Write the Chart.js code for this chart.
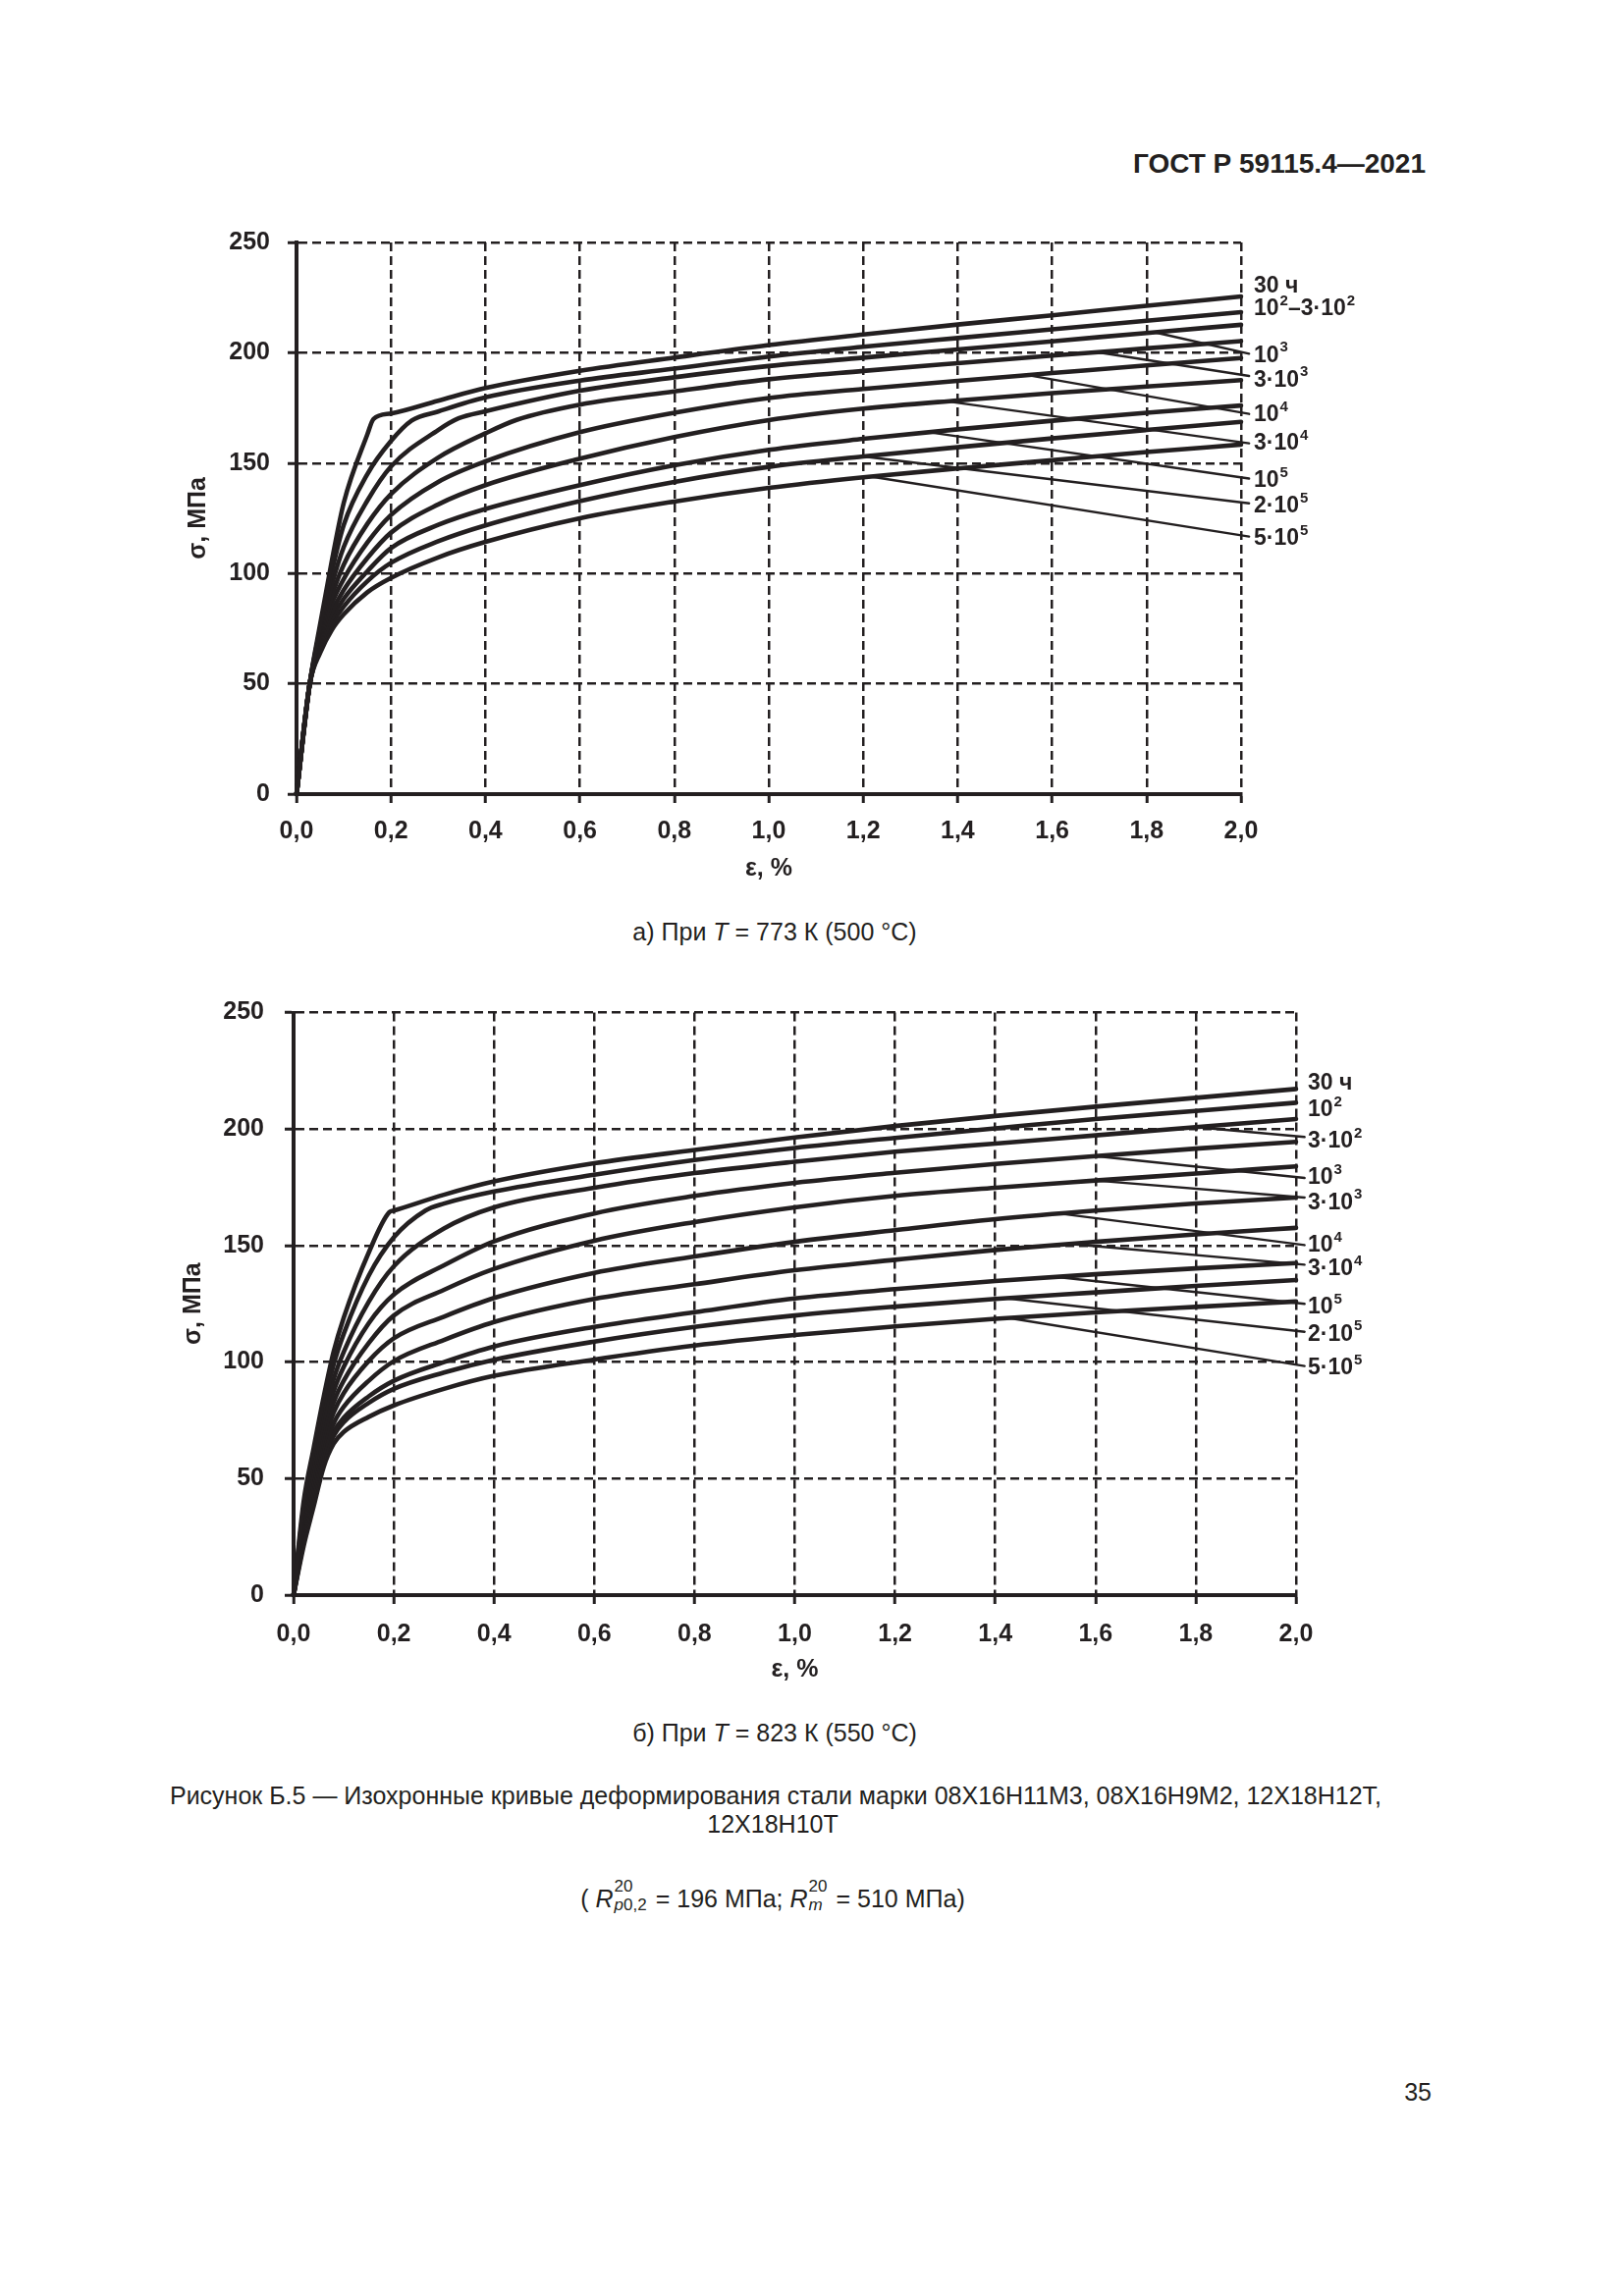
<!DOCTYPE html>
<html><head><meta charset="utf-8">
<script src="https://cdn.jsdelivr.net/npm/chart.js@4.4.1/dist/chart.umd.min.js"></script>
<style>
html,body{margin:0;padding:0;background:#fff;}
#page{position:relative;width:1654px;height:2339px;overflow:hidden;font-family:"Liberation Sans",Arial,sans-serif;color:#231f20;background:#fff;}
.t{position:absolute;white-space:nowrap;line-height:1;font-size:25px;}
.c{transform:translateX(-50%);}
.box{position:absolute;left:0;width:1654px;}
.ss{display:inline-flex;flex-direction:column;vertical-align:16px;font-size:17px;line-height:19px;margin-left:1px;margin-right:9px;}
</style></head>
<body><div id="page">
<div class="t" style="right:202px;top:153px;font-size:28px;font-weight:bold;">ГОСТ Р 59115.4—2021</div>
<div class="box" style="top:200px;height:700px;"><canvas id="chA" width="1654" height="700" style="width:1654px;height:700px;"></canvas></div>
<div class="t c" style="left:789px;top:937px;">а) При <i>T</i> = 773 К (500 °C)</div>
<div class="box" style="top:990px;height:726px;"><canvas id="chB" width="1654" height="726" style="width:1654px;height:726px;"></canvas></div>
<div class="t c" style="left:789px;top:1753px;">б) При <i>T</i> = 823 К (550 °C)</div>
<div class="t c" style="left:790px;top:1817px;">Рисунок Б.5 — Изохронные кривые деформирования стали марки 08Х16Н11М3, 08Х16Н9М2, 12Х18Н12Т,</div>
<div class="t c" style="left:787px;top:1846px;">12Х18Н10Т</div>
<div class="t c" style="left:787px;top:1912px;">( <i>R</i><span class="ss"><span>20</span><span><i>p</i>0,2</span></span>= 196 МПа; <i>R</i><span class="ss"><span>20</span><span><i>m</i></span></span>= 510 МПа)</div>
<div class="t" style="right:196px;top:2119px;">35</div>
</div>
<script>
const INK = '#231f20';
const FONT = '"Liberation Sans", Arial, sans-serif';

// ---- Chart a) T = 773 K ----
const epsA = [0, 0.028, 0.05, 0.075, 0.1, 0.15, 0.2, 0.3, 0.4, 0.6, 0.8, 1.0, 1.2, 1.4, 1.6, 1.8, 2.0];
const a30h = [0, 50, 77, 106, 132, 163, 172.5, 178.3, 184, 191.8, 197.8, 203.5, 208.3, 212.8, 217, 221.3, 225.5];
const a1e2 = [0, 50, 75, 101, 122, 145, 160, 173.4, 179.8, 187.4, 192.8, 198.3, 202.7, 206.7, 210.6, 214.5, 218.4];
const a1e3 = [0, 50, 73, 95, 112, 133, 148.5, 165, 173.5, 182.8, 188.9, 194, 197.8, 201.5, 205.2, 209, 212.7];
const a3e3 = [0, 50, 71.5, 90, 104, 122.5, 136, 152.5, 163.5, 176.5, 182.5, 188, 191.8, 195.3, 198.7, 202, 205.3];
const a1e4 = [0, 50, 70, 86.5, 97.5, 114, 126.5, 141.5, 150.8, 164, 172.8, 179.5, 183.6, 187.3, 190.8, 194.3, 197.6];
const a3e4 = [0, 50, 68.5, 82.5, 92.5, 107, 118.5, 131.3, 140, 152, 161.8, 169.5, 174.7, 178.4, 181.7, 184.7, 187.6];
const a1e5 = [0, 50, 67, 79.5, 88.5, 101, 111.5, 122, 129.2, 140, 149, 156, 161, 165.3, 169.2, 172.8, 176.1];
const a2e5 = [0, 50, 65.5, 77, 85, 96.5, 104.8, 114.6, 121.8, 132.8, 141.5, 148.3, 153, 157.2, 161.2, 165, 168.7];
const a5e5 = [0, 50, 64, 74.5, 81.5, 91.5, 98, 107.3, 114.3, 125, 132.6, 138.8, 143.6, 147.6, 151.3, 155, 158.4];
const kneeA = [[0.163, 170], [0.244, 169.3], [0.343, 170.3], [0.466, 169.6]];
const labA = ['30 ч', '10^2–3·10^2', '10^3', '3·10^3', '10^4', '3·10^4', '10^5', '2·10^5', '5·10^5'];
const labAy = [230.2, 219.8, 198.7, 187.6, 171.9, 159, 141.9, 130.6, 115.8];
const ldAx0 = [1.817, 1.695, 1.548, 1.378, 1.34, 1.2, 1.216];
const ldAy0 = [209.3, 200.3, 189.9, 178, 164, 153, 143.9];
const ldAy1 = [199.6, 189.5, 172.3, 159, 143, 131.8, 116.7];

// ---- Chart б) T = 823 K ----
const epsB = [0, 0.02, 0.04, 0.06, 0.08, 0.1, 0.15, 0.2, 0.3, 0.4, 0.6, 0.8, 1.0, 1.2, 1.4, 1.6, 1.8, 2.0];
const b30h = [0, 40, 63, 85, 104.5, 119, 147, 165, 171.8, 177.5, 185.3, 191, 196.4, 201.3, 205.6, 209.6, 213.4, 217.2];
const b1e2 = [0, 37.3, 59.5, 80.8, 99, 112.1, 137.1, 153.5, 168, 173.2, 180.4, 186.7, 191.9, 196.2, 200.3, 204.3, 207.8, 211.3];
const b3e2 = [0, 34.3, 55.5, 76, 92.7, 104.3, 125.9, 141.1, 157.3, 166.4, 174.8, 181.1, 186, 190.3, 193.8, 197.3, 200.8, 204.3];
const b1e3 = [0, 31.8, 52.3, 72.1, 87.5, 97.9, 116.7, 129, 141.5, 151.8, 163.8, 171.3, 176.9, 181.2, 185, 188.4, 191.6, 194.5];
const b3e3 = [0, 29.6, 49.3, 68.5, 82.8, 92, 108.2, 120, 131, 140, 152.1, 160.1, 166.4, 171.3, 174.8, 177.9, 180.9, 184];
const b1e4 = [0, 27.5, 46.5, 65.2, 78.4, 86.7, 100.5, 110.2, 119.5, 127.5, 138.3, 145.3, 151.6, 156.6, 161.3, 165, 168.1, 170.6];
const b3e4 = [0, 25.2, 43.5, 61.6, 73.7, 80.8, 92, 100.4, 109.5, 117.2, 127.1, 133.4, 139.4, 143.9, 148.1, 151.6, 154.8, 157.6];
const b1e5 = [0, 23.4, 41.1, 58.8, 69.9, 76.1, 85.3, 92, 100, 106.7, 115.1, 121.4, 127.3, 131.3, 134.8, 137.7, 140.2, 142.5];
const b2e5 = [0, 22.6, 40.1, 57.6, 68.4, 74.2, 82.5, 88.5, 95.5, 101, 108.8, 115.1, 120, 123.8, 127.1, 129.9, 132.7, 135.2];
const b5e5 = [0, 21, 38, 55, 65, 70, 76.5, 81.4, 88.5, 94.1, 101.1, 107.1, 111.6, 115.3, 118.6, 121.3, 123.7, 126];
const kneeB = [[0.191, 164.3], [0.263, 165]];
const labB = ['30 ч', '10^2', '3·10^2', '10^3', '3·10^3', '10^4', '3·10^4', '10^5', '2·10^5', '5·10^5'];
const labBy = [219.8, 208.2, 194.7, 179, 168.4, 150.2, 140.1, 123.6, 111.9, 97.3];
const ldBx0 = [1.8, 1.6, 1.6, 1.53, 1.55, 1.52, 1.42, 1.425];
const ldBy0 = [200.8, 188.4, 177.9, 163.7, 150.7, 136.6, 127.4, 119];
const ldBy1 = [196.6, 179, 170.6, 150.2, 141.8, 125, 113, 98.3];

const leaderEndX = 2.017;
const yTicks = [0, 50, 100, 150, 200, 250];

function curvePoints(xs, ys, knee) {
  const pts = xs.map((x, i) => ({x: x, y: ys[i]}));
  if (knee) { pts.push({x: knee[0], y: knee[1]}); pts.sort((a, b) => a.x - b.x); }
  return pts;
}

function buildDatasets(xs, curves, knees, lx0, ly0, ly1) {
  const ds = curves.map((ys, i) => ({
    data: curvePoints(xs, ys, knees[i]),
    borderColor: INK, borderWidth: 4.6, pointRadius: 0,
    cubicInterpolationMode: 'monotone', fill: false, clip: false
  }));
  lx0.forEach((x0, i) => {
    ds.push({
      data: [{x: x0, y: ly0[i]}, {x: leaderEndX, y: ly1[i]}],
      borderColor: INK, borderWidth: 2.4, pointRadius: 0, tension: 0, fill: false, clip: false
    });
  });
  return ds;
}

function labelPlugin(texts, ys, dx) {
  return {
    id: 'curveLabels',
    afterDatasetsDraw(chart) {
      const {ctx, chartArea, scales} = chart;
      ctx.save();
      ctx.fillStyle = INK; ctx.textBaseline = 'middle'; ctx.textAlign = 'left';
      texts.forEach((t, i) => {
        let x = chartArea.right + dx;
        const y = scales.y.getPixelForValue(ys[i]);
        t.split(/(\^\d)/).forEach(part => {
          if (!part) return;
          if (part[0] === '^') {
            ctx.font = 'bold 15px ' + FONT;
            ctx.fillText(part.slice(1), x + 1, y - 8);
            x += ctx.measureText(part.slice(1)).width + 1;
          } else {
            ctx.font = 'bold 23px ' + FONT;
            ctx.fillText(part, x, y);
            x += ctx.measureText(part).width;
          }
        });
      });
      ctx.restore();
    }
  };
}

function makeScales(yWidth, xHeight, yTitlePad, tickPadX, tickPadY) {
  const grid = {color: INK, lineWidth: 2.5, tickLength: 9, tickWidth: 3, tickColor: INK, tickBorderDash: []};
  const border = {display: true, color: INK, width: 4, dash: [9, 5]};
  return {
    x: {
      type: 'linear', min: 0, max: 2,
      ticks: {stepSize: 0.2, padding: tickPadX, color: INK, maxRotation: 0, autoSkip: false,
        font: {family: FONT, size: 25, weight: 'bold'},
        callback: v => Number(v).toFixed(1).replace('.', ',')},
      grid: grid, border: border,
      title: {display: true, text: 'ε, %', color: INK, font: {family: FONT, size: 25, weight: 'bold'}, padding: {top: 0, bottom: 0}},
      afterFit: s => { s.height = xHeight; }
    },
    y: {
      type: 'linear', min: 0, max: 250,
      afterBuildTicks: s => { s.ticks = yTicks.map(v => ({value: v})); },
      ticks: {padding: tickPadY, color: INK, font: {family: FONT, size: 25, weight: 'bold'}},
      grid: grid, border: border,
      title: {display: true, text: 'σ, МПа', color: INK, font: {family: FONT, size: 25, weight: 'bold'}, padding: {top: yTitlePad, bottom: 0}},
      afterFit: s => { s.width = yWidth; }
    }
  };
}

function makeChart(id, datasets, scales, padding, plugin) {
  return new Chart(document.getElementById(id), {
    type: 'line',
    data: {datasets: datasets},
    options: {
      responsive: false, animation: false, devicePixelRatio: 1,
      layout: {padding: padding},
      plugins: {legend: {display: false}, tooltip: {enabled: false}},
      elements: {line: {borderCapStyle: 'round', borderJoinStyle: 'round'}},
      scales: scales
    },
    plugins: [plugin]
  });
}

makeChart('chA',
  buildDatasets(epsA, [a30h, a1e2, a1e3, a3e3, a1e4, a3e4, a1e5, a2e5, a5e5], kneeA, ldAx0, ldAy0, ldAy1),
  makeScales(302, 91, 187, 14, 18),
  {top: 47, right: 390, left: 0, bottom: 0},
  labelPlugin(labA, labAy, 13));

makeChart('chB',
  buildDatasets(epsB, [b30h, b1e2, b3e2, b1e3, b3e3, b1e4, b3e4, b1e5, b2e5, b5e5], kneeB, ldBx0, ldBy0, ldBy1),
  makeScales(299, 91, 182, 16, 21),
  {top: 41.5, right: 334, left: 0, bottom: 0},
  labelPlugin(labB, labBy, 12));
</script>
</body></html>
